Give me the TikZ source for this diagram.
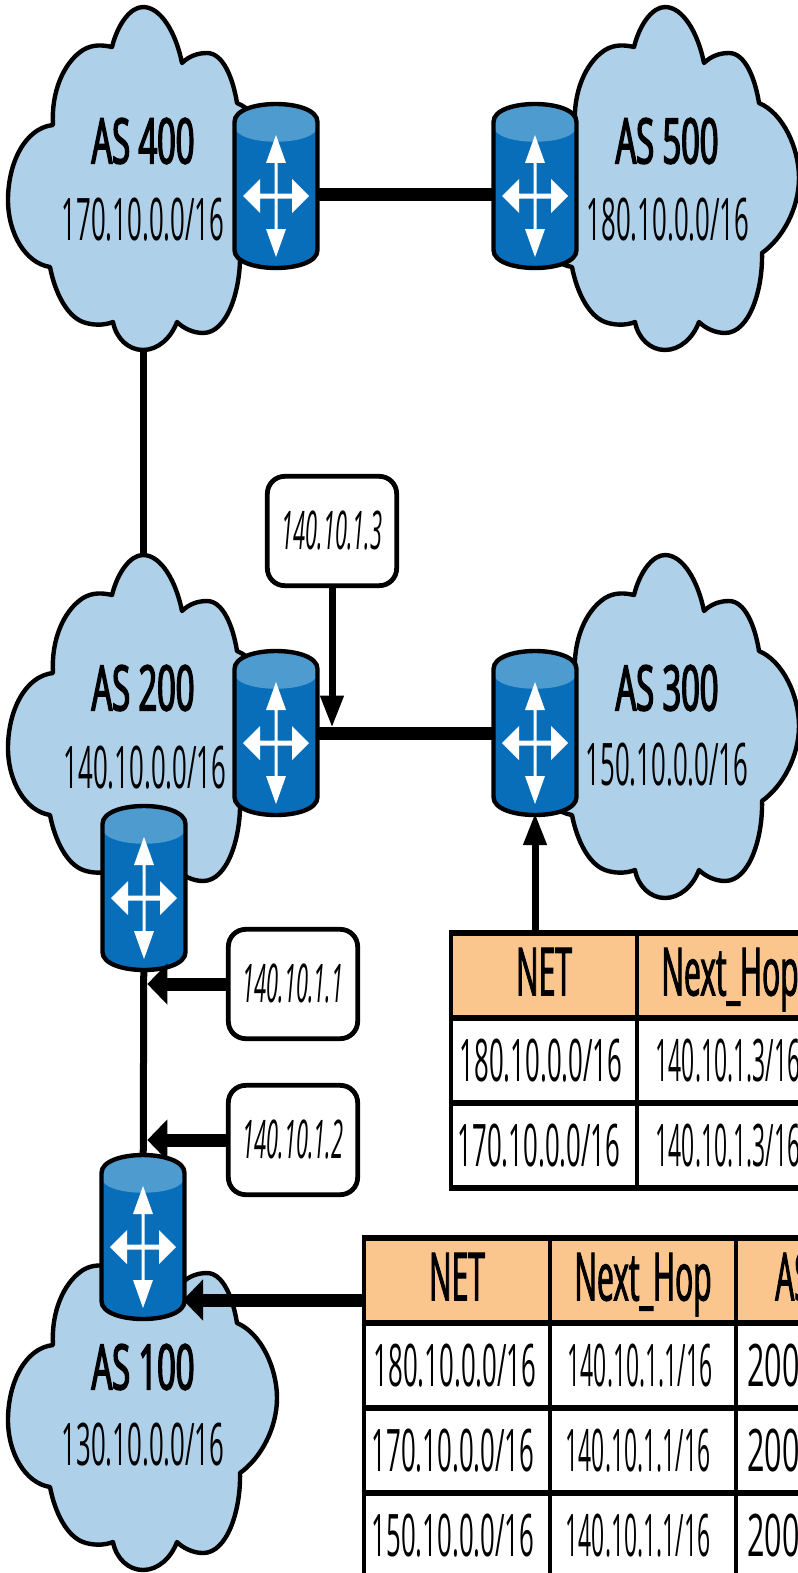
\documentclass[tikz,border=0pt]{standalone}
\usepackage{fontspec}
\setmainfont[FakeStretch=0.44]{Open Sans}
\newfontfamily\asfont[FakeStretch=0.52,FakeBold=2.4]{Open Sans}
\newfontfamily\headfont[FakeStretch=0.45,FakeBold=1.4]{Open Sans}
\newfontfamily\hopfont[FakeStretch=0.39]{Open Sans}
\newfontfamily\addrfont[FakeStretch=0.41]{Open Sans}
\newfontfamily\widefont[FakeStretch=0.52]{Open Sans}
\usetikzlibrary{arrows.meta,calc}
\pgfdeclarelayer{links}
\pgfsetlayers{links,main}
\definecolor{cloudblue}{RGB}{174,208,232}
\definecolor{routerblue}{RGB}{8,110,186}
\definecolor{routertop}{RGB}{78,155,208}
\definecolor{headorange}{RGB}{250,198,141}
\tikzset{
  heavy/.style={line width=3.3pt},
  link/.style={line width=9.75pt},
  thinlink/.style={line width=5.25pt},
  pointer/.style={line width=9.75pt,-{Triangle[length=15pt,width=30pt]}},
  downptr/.style={line width=5.25pt,-{Triangle[length=24pt,width=16.5pt]}},
  rulerh/.style={line width=4.5pt},
  rulerv/.style={line width=3pt},
  asname/.style={font=\fontsize{47}{50}\asfont,inner sep=0pt},
  asnet/.style={font=\fontsize{44}{48}\selectfont,inner sep=0pt},
  addrbox/.style={draw,line width=3.6pt,fill=white,rounded corners=13pt,minimum width=97pt,minimum height=82pt,inner sep=0pt,font=\fontsize{40}{44}\addrfont\itshape},
  headcell/.style={fill=headorange,minimum width=139.5pt,minimum height=63.75pt,inner sep=0pt,text height=36pt,text depth=6pt,font=\fontsize{50}{54}\headfont},
  datacell/.style={fill=white,minimum width=139.5pt,minimum height=63.75pt,inner sep=0pt,text height=32pt,text depth=0pt,font=\fontsize{44}{48}\selectfont},
  hopcell/.style={datacell,font=\fontsize{44}{48}\hopfont},
  edgetext/.style={anchor=west,inner sep=0pt,text height=32pt,text depth=0pt,font=\fontsize{44}{48}\widefont},
  pics/cloud/.style={code={
    \node[minimum width=202pt,minimum height=257pt,inner sep=0pt,outer sep=0pt] (-box) at (0,0) {};
    \begin{scope}[yscale=-1]
    \draw[fill=cloudblue,heavy,line join=round]
      (-31,-131) .. controls (-25,-155) and (-12,-171) .. (0,-171)
      .. controls (18,-171) and (33,-145) .. (39,-115)
      .. controls (46,-122) and (55,-125) .. (64,-125)
      .. controls (80,-125) and (90,-100) .. (94,-75)
      .. controls (118,-65) and (134,-30) .. (134,0)
      .. controls (134,30) and (118,60) .. (97,75)
      .. controls (98,110) and (85,155) .. (60,155)
      .. controls (50,155) and (40,150) .. (34,144)
      .. controls (28,160) and (15,172) .. (0,172)
      .. controls (-15,172) and (-27,160) .. (-30,144)
      .. controls (-40,148) and (-52,147) .. (-60,144)
      .. controls (-76,138) and (-88,115) .. (-93,89)
      .. controls (-118,85) and (-135,55) .. (-135,22)
      .. controls (-135,-15) and (-118,-50) .. (-90,-53)
      .. controls (-92,-85) and (-80,-115) .. (-60,-128)
      .. controls (-50,-134) and (-40,-133) .. (-31,-131) -- cycle;
    \end{scope}
  }},
  pics/router/.style={code={
    \node[minimum width=60pt,minimum height=120pt,inner sep=0pt,outer sep=0pt] (-box) at (0,0) {};
    \begin{scope}[yscale=-1]
    \fill[routerblue] (-41.5,-64) .. controls (-41.5,-88) and (41.5,-88) .. (41.5,-64) -- (41.5,64) .. controls (41.5,88) and (-41.5,88) .. (-41.5,64) -- cycle;
    \fill[routertop] (-41.5,-60) .. controls (-41.5,-88) and (41.5,-88) .. (41.5,-60) .. controls (41.5,-39) and (-41.5,-39) .. (-41.5,-60) -- cycle;
    \draw[heavy] (-41.5,-64) .. controls (-41.5,-88) and (41.5,-88) .. (41.5,-64) -- (41.5,64) .. controls (41.5,88) and (-41.5,88) .. (-41.5,64) -- cycle;
    % white cross
    \fill[white] (0,-51) -- (10,-23) -- (1.5,-23) -- (1.5,7.5) -- (16,7.5) -- (16,-7) -- (33,10) -- (16,27) -- (16,12.5) -- (1.5,12.5) -- (1.5,43) -- (10,43) -- (0,71) -- (-10,43) -- (-1.5,43) -- (-1.5,12.5) -- (-16,12.5) -- (-16,27) -- (-33,10) -- (-16,-7) -- (-16,7.5) -- (-1.5,7.5) -- (-1.5,-23) -- (-10,-23) -- cycle;
    \end{scope}
  }},
}
\begin{document}
\begin{tikzpicture}[x=0.75pt,y=0.75pt,yscale=-1,xscale=1]
\useasboundingbox (0,0) rectangle (798,1573);

% Clouds
\pic (c400) at (143,178) {cloud};
\pic (c500) at (665,178) {cloud};
\pic (c200) at (143,726) {cloud};
\pic (c300) at (665,726) {cloud};
\pic (c100) at (143,1398) {cloud};

% Routers
\pic (r210) at (144,888) {router};
\pic (r100) at (143,1237) {router};
\pic (r400) at (276,186) {router};
\pic (r500) at (535,186) {router};
\pic (r200) at (276,733) {router};
\pic (r300) at (535,733) {router};

% Links behind everything
\begin{pgfonlayer}{links}
\draw [link] ([yshift=6pt]r400-box.center) -- ([yshift=6pt]r500-box.center);
\draw [link] (r200-box.center) -- (r300-box.center);
\draw [thinlink] (c400-box.center) -- (c200-box.center);
\draw [thinlink] (r210-box.center) -- (r100-box.center);
\end{pgfonlayer}

% Text Node
\node [asname] (n400) at (143,141) {AS 400};
\node [asnet] (a400) at (143,220) {170.10.0.0/16};
\node [asname] (n500) at (667,141) {AS 500};
\node [asnet] (a500) at (668,220) {180.10.0.0/16};
\node [asname] (n200) at (143,688) {AS 200};
\node [asnet] (a200) at (145,768) {140.10.0.0/16};
\node [asname] (n300) at (667,688) {AS 300};
\node [asnet] (a300) at (667,765) {150.10.0.0/16};
\node [asname] (n100) at (143,1367) {AS 100};
\node [asnet] (a100) at (143,1445) {130.10.0.0/16};

% Address boxes
\node [addrbox] (l3) at (332,531) {140.10.1.3};
\node [addrbox] (l1) at (293,984) {140.10.1.1};
\node [addrbox] (l2) at (293,1140) {140.10.1.2};
\draw [downptr,shorten >=4pt] (l3.south) -- (l3.south |- r200-box.center);
\draw [pointer] (l1.west) -- ([xshift=2.5pt]r210-box.center |- l1.west);
\draw [pointer] (l2.west) -- ([xshift=2.5pt]r210-box.center |- l2.west);

% Table one
\node [headcell] (t1net) at (544,975.5) {NET};
\node [headcell] (t1hop) at (730,975.5) {Next\_Hop};
\node [datacell] (t1a) at (541,1060.5) {180.10.0.0/16};
\node [hopcell] (t1b) at (728,1060.5) {140.10.1.3/16};
\node [datacell] (t1c) at (539,1145.5) {170.10.0.0/16};
\node [hopcell] (t1d) at (728,1145.5) {140.10.1.3/16};
\draw [rulerh] (t1net.north west) -- (t1hop.north east);
\draw [rulerh] (t1net.south west) -- (t1hop.south east);
\draw [rulerh] (t1net.west |- t1a.south) -- (t1hop.east |- t1a.south);
\draw [rulerh] (t1net.west |- t1c.south) -- (t1hop.east |- t1c.south);
\draw [rulerv] ([yshift=-2pt]t1net.north west) -- ([yshift=2pt]t1net.west |- t1c.south);
\draw [rulerv] ([yshift=-2pt]t1net.north east) -- ([yshift=2pt]t1net.east |- t1c.south);
\coordinate (t1in) at (535,933);
\draw [downptr] (t1in) -- (t1in |- r300-box.south);

% Table two
\node [headcell] (t2net) at (457,1280.5) {NET};
\node [headcell] (t2hop) at (643,1280.5) {Next\_Hop};
\node [headcell,minimum width=80pt,anchor=west] (t2as) at (736,1280.5) {};
\node [anchor=west,inner sep=0pt,text height=36pt,text depth=6pt,font=\fontsize{50}{54}\headfont] (t2ast) at (775,1280.5) {AS};
\node [datacell] (t2a) at (455,1365.5) {180.10.0.0/16};
\node [hopcell] (t2b) at (640,1365.5) {140.10.1.1/16};
\node [datacell] (t2c) at (453,1450.5) {170.10.0.0/16};
\node [hopcell] (t2d) at (638,1450.5) {140.10.1.1/16};
\node [datacell] (t2e) at (453,1535.5) {150.10.0.0/16};
\node [hopcell] (t2f) at (638,1535.5) {140.10.1.1/16};
\node [edgetext] (t2p) at (747,1365.5) {200};
\node [edgetext] (t2q) at (747,1450.5) {200};
\node [edgetext] (t2r) at (747,1535.5) {200};
\draw [rulerh] (t2net.north west) -- (t2as.north east);
\draw [rulerh] (t2net.south west) -- (t2as.south east);
\draw [rulerh] (t2net.west |- t2a.south) -- (t2as.east |- t2a.south);
\draw [rulerh] (t2net.west |- t2c.south) -- (t2as.east |- t2c.south);
\draw [rulerv] ([yshift=-2pt]t2net.north west) -- (t2net.west |- t2e.south);
\draw [rulerv] ([yshift=-2pt]t2net.north east) -- (t2net.east |- t2e.south);
\draw [rulerv] ([yshift=-2pt]t2hop.north east) -- (t2hop.east |- t2e.south);
\coordinate (t2in) at (364,1300);
\draw [pointer] (t2in) -- (t2in -| r100-box.east);
\end{tikzpicture}
\end{document}
